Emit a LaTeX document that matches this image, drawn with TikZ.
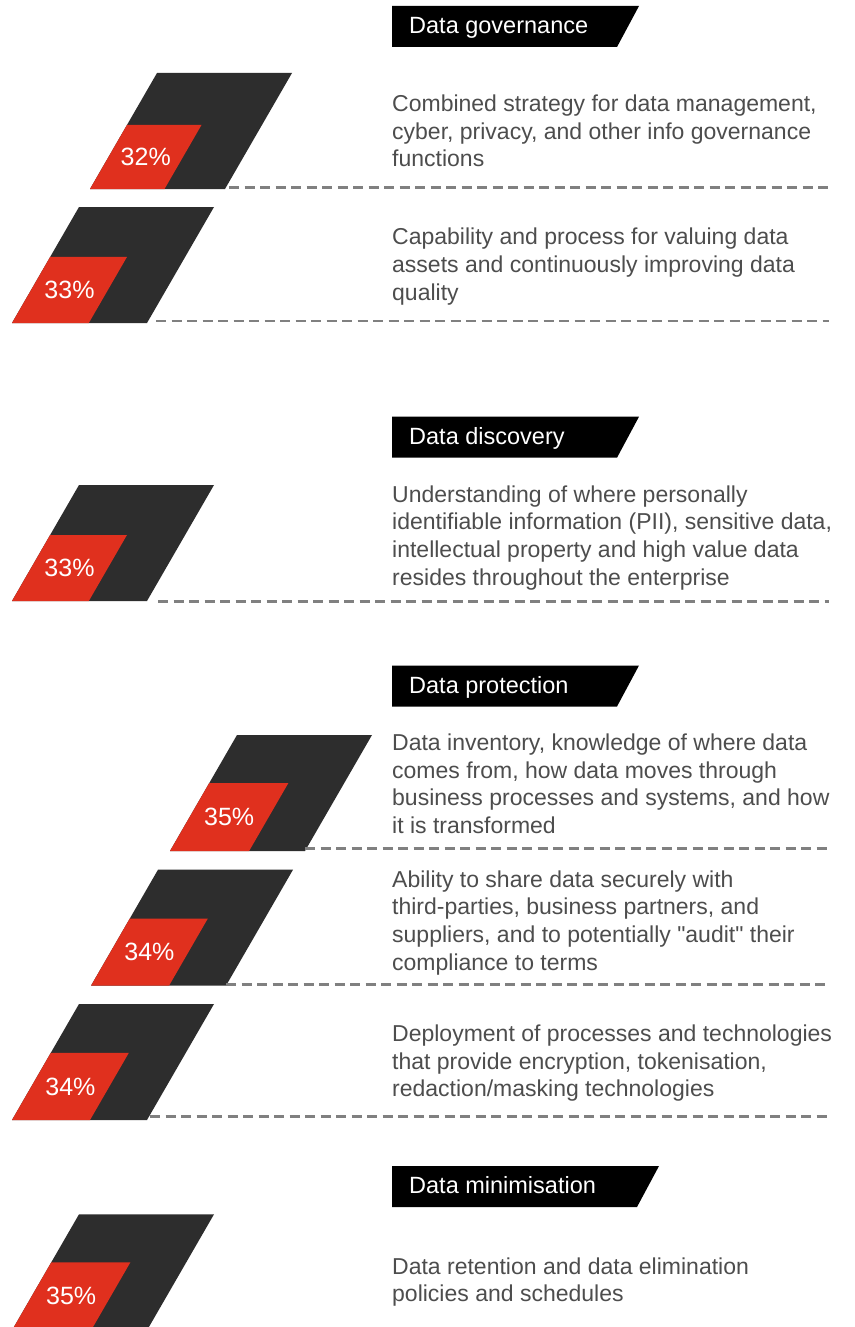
\documentclass[tikz,border=0pt]{standalone}
\usepackage{fontspec}
\setmainfont{Liberation Sans}[Ligatures=TeXOff]
\definecolor{pwcdark}{HTML}{2D2D2D}
\definecolor{pwcred}{HTML}{E0301E}
\definecolor{bodygray}{HTML}{4D4D4D}
\definecolor{dashgray}{HTML}{808080}
\tikzset{
  pct/.style={text=white, inner sep=0pt, font=\fontsize{25}{29}\selectfont},
  hdr/.style={text=white, inner sep=0pt, anchor=base west, font=\fontsize{23.5}{28}\selectfont},
  body/.style={text=bodygray, inner sep=0pt, anchor=base west, align=left, font=\fontsize{23}{27.6}\selectfont},
  dashline/.style={draw=dashgray, line width=2.6pt, dash pattern=on 10pt off 5.5pt}
}
\newcommand\pctbar[5]{%
  \fill[pwcdark] (#2,#3) -- ++(135,0) -- ++(67,-116) -- ++(-135,0) -- cycle;
  \fill[pwcred] (#2,#3) -- ++({135*#4},0) -- ++({67*#4},{-116*#4}) -- ++({-135*#4},0) -- cycle;
  \node[pct] (#1) at ({#2+101*#4},{#3-58*#4}) {#5};
}
\newcommand\hdrbox[4]{%
  \fill[black] (392,#2) -- (#3,#2) -- ({#3-22},{#2+41}) -- (392,{#2+41}) -- cycle;
  \node[hdr] (#1) at (409,{#2+27.5}) {#4};
}
\newcommand\sq{\symbol{34}}
\begin{document}
\begin{tikzpicture}[x=1pt,y=-1pt]
\useasboundingbox (0,0) rectangle (854,1327);
\clip (0,0) rectangle (854,1327);
\fill[white] (0,0) rectangle (854,1327);

% Data governance (body nodes anchored at the baseline of their last line)
\hdrbox{hgov}{6}{639}{Data governance}
\pctbar{p1}{90}{189}{0.552}{32\%}
\node[body] (t1) at (392,166.7) {Combined strategy for data management,\\cyber, privacy, and other info governance\\functions};
\coordinate (d1s) at (229,187.7); \coordinate (d1e) at (829,187.7);
\draw[dashline] (d1s) -- (d1e);

\pctbar{p2}{12}{323}{0.569}{33\%}
\node[body] (t2) at (392,300) {Capability and process for valuing data\\assets and continuously improving data\\quality};
\coordinate (d2s) at (156,321); \coordinate (d2e) at (829,321);
\draw[dashline] (d2s) -- (d2e);

% Data discovery
\hdrbox{hdis}{416.7}{639}{Data discovery}
\pctbar{p3}{12}{601}{0.569}{33\%}
\node[body] (t3) at (392,585) {Understanding of where personally\\identifiable information (PII), sensitive data,\\intellectual property and high value data\\resides throughout the enterprise};
\coordinate (d3s) at (158,601.3); \coordinate (d3e) at (829,601.3);
\draw[dashline] (d3s) -- (d3e);

% Data protection
\hdrbox{hpro}{665.5}{639}{Data protection}
\pctbar{p4}{170}{851}{0.586}{35\%}
\node[body] (t4) at (392,833.3) {Data inventory, knowledge of where data\\comes from, how data moves through\\business processes and systems, and how\\it is transformed};
\coordinate (d4s) at (305,848.3); \coordinate (d4e) at (829,848.3);
\draw[dashline] (d4s) -- (d4e);

\pctbar{p5}{91}{985.7}{0.578}{34\%}
\node[body] (t5) at (392,970) {Ability to share data securely with\\third-parties, business partners, and\\suppliers, and to potentially \sq audit\sq{} their\\compliance to terms};
\coordinate (d5s) at (226,984.3); \coordinate (d5e) at (829,984.3);
\draw[dashline] (d5s) -- (d5e);

\pctbar{p6}{12}{1120}{0.578}{34\%}
\node[body] (t6) at (392,1096.7) {Deployment of processes and technologies\\that provide encryption, tokenisation,\\redaction/masking technologies};
\coordinate (d6s) at (150,1116.3); \coordinate (d6e) at (829,1116.3);
\draw[dashline] (d6s) -- (d6e);

% Data minimisation
\hdrbox{hmin}{1166}{659}{Data minimisation}
\pctbar{p7}{12}{1330.3}{0.586}{35\%}
\node[body] (t7) at (392,1301.7) {Data retention and data elimination\\policies and schedules};
\end{tikzpicture}
\end{document}
